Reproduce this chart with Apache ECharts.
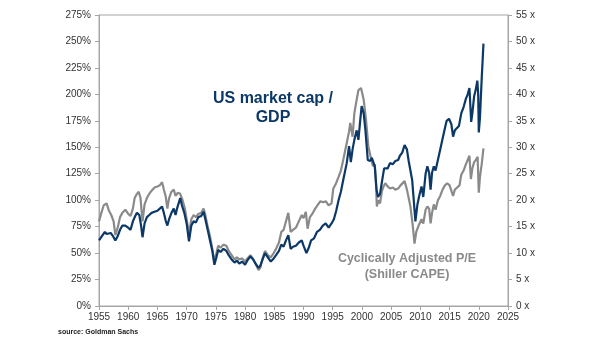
<!DOCTYPE html>
<html>
<head>
<meta charset="utf-8">
<script src="https://cdn.jsdelivr.net/npm/echarts@6/dist/echarts.min.js"></script>
<style>
  html, body { margin: 0; padding: 0; background: #ffffff; }
  #chart { width: 605px; height: 341px; }
</style>
</head>
<body>
<div id="chart"></div>
<script>
// US stock market capitalisation as a share of GDP (%), [year, value]
const marketCapToGdp = [
  [1955.0, 62], [1955.5, 66], [1956.0, 70], [1956.3, 68], [1956.6, 67], [1957.0, 69], [1957.4, 66], [1957.8, 62],
  [1958.2, 66], [1958.6, 72], [1959.0, 76], [1959.5, 76], [1960.0, 74], [1960.4, 72], [1960.8, 80], [1961.2, 85],
  [1961.5, 88], [1961.9, 86], [1962.2, 76], [1962.45, 65], [1962.8, 78], [1963.2, 84], [1963.6, 86], [1964.0, 88],
  [1964.5, 89], [1965.0, 90], [1965.4, 92], [1965.8, 94], [1966.1, 88], [1966.4, 81], [1966.7, 76], [1967.0, 82],
  [1967.4, 88], [1967.8, 92], [1968.1, 86], [1968.4, 93], [1968.9, 102], [1969.2, 95], [1969.6, 88], [1970.0, 78],
  [1970.4, 61], [1970.8, 76], [1971.2, 80], [1971.6, 79], [1972.0, 84], [1972.5, 85], [1972.9, 89], [1973.2, 82],
  [1973.6, 72], [1974.0, 62], [1974.4, 52], [1974.75, 39], [1975.1, 46], [1975.4, 53], [1975.8, 51], [1976.3, 54],
  [1976.8, 52], [1977.2, 48], [1977.7, 44], [1978.2, 41], [1978.6, 43], [1979.0, 40], [1979.5, 42], [1980.0, 39],
  [1980.4, 43], [1980.9, 47], [1981.4, 44], [1981.8, 40], [1982.3, 36], [1982.6, 38], [1983.0, 44], [1983.4, 50],
  [1983.9, 46], [1984.4, 42], [1984.9, 45], [1985.3, 48], [1985.8, 52], [1986.2, 58], [1986.6, 56], [1987.0, 62],
  [1987.4, 67], [1987.8, 54], [1988.2, 56], [1988.7, 57], [1989.2, 60], [1989.7, 62], [1990.0, 57], [1990.5, 50],
  [1990.9, 55], [1991.3, 62], [1991.8, 64], [1992.3, 70], [1992.8, 72], [1993.3, 76], [1993.8, 78], [1994.3, 74],
  [1994.8, 78], [1995.2, 82], [1995.6, 90], [1996.0, 100], [1996.4, 108], [1996.8, 119], [1997.4, 135], [1997.8, 151],
  [1998.1, 136], [1998.4, 148], [1998.7, 157], [1999.1, 166], [1999.4, 157], [1999.7, 175], [1999.95, 189], [2000.3, 182],
  [2000.6, 166], [2001.0, 138], [2001.4, 137], [2001.7, 140], [2002.2, 132], [2002.5, 110], [2002.75, 103], [2003.1, 106],
  [2003.5, 120], [2003.8, 130], [2004.1, 129], [2004.4, 130], [2004.8, 135],
  [2005.3, 134], [2005.7, 137], [2006.2, 138], [2006.5, 142], [2006.9, 145], [2007.3, 152], [2007.7, 148], [2008.0, 137],
  [2008.3, 128], [2008.6, 119], [2008.9, 98], [2009.15, 80], [2009.5, 96], [2009.8, 104], [2010.2, 113], [2010.5, 103],
  [2010.9, 125], [2011.2, 132], [2011.5, 126], [2011.75, 110], [2012.0, 126], [2012.3, 132], [2012.6, 128], [2013.0, 138],
  [2013.4, 148], [2013.8, 158], [2014.2, 168], [2014.5, 175], [2014.9, 177], [2015.3, 172], [2015.6, 160], [2015.9, 166],
  [2016.2, 167], [2016.6, 170], [2017.0, 182], [2017.4, 188], [2017.8, 196], [2018.1, 200], [2018.4, 206], [2018.7, 174],
  [2018.9, 182], [2019.2, 198], [2019.5, 205], [2019.75, 213], [2019.9, 200], [2020.0, 164], [2020.2, 178], [2020.5, 215],
  [2020.8, 248]
];

// Shiller cyclically adjusted P/E (multiple, x), [year, value]
const shillerCape = [
  [1955.0, 16.0], [1955.4, 17.6], [1955.8, 19.0], [1956.3, 19.4], [1956.7, 18.0], [1957.1, 17.2], [1957.5, 16.0], [1957.8, 13.4],
  [1958.2, 14.8], [1958.6, 16.8], [1959.0, 17.6], [1959.5, 18.2], [1960.0, 17.4], [1960.4, 17.0], [1960.8, 18.4], [1961.1, 20.4],
  [1961.5, 21.2], [1961.8, 21.6], [1962.1, 20.4], [1962.45, 16.0], [1962.8, 19.2], [1963.2, 20.4], [1963.6, 21.2], [1964.0, 21.8],
  [1964.5, 22.4], [1965.0, 22.6], [1965.4, 22.8], [1965.8, 23.4], [1966.1, 22.0], [1966.4, 20.8], [1966.7, 18.4], [1967.0, 20.4],
  [1967.4, 21.6], [1967.8, 22.0], [1968.1, 20.8], [1968.5, 21.4], [1968.9, 21.2], [1969.3, 20.0], [1969.7, 18.4], [1970.0, 16.4],
  [1970.4, 13.6], [1970.8, 16.4], [1971.2, 17.2], [1971.6, 16.8], [1972.0, 17.4], [1972.5, 17.6], [1972.9, 18.4], [1973.2, 17.2],
  [1973.6, 15.0], [1974.0, 13.2], [1974.4, 10.8], [1974.75, 8.4], [1975.1, 10.0], [1975.4, 11.4], [1975.8, 11.0], [1976.3, 11.6],
  [1976.8, 11.4], [1977.2, 10.4], [1977.7, 9.6], [1978.2, 8.8], [1978.6, 9.2], [1979.0, 8.8], [1979.5, 9.0], [1980.0, 8.4],
  [1980.4, 9.0], [1980.9, 9.6], [1981.4, 8.8], [1981.8, 8.0], [1982.3, 6.8], [1982.6, 7.2], [1983.0, 9.0], [1983.4, 10.4],
  [1983.9, 9.6], [1984.4, 9.2], [1984.9, 10.0], [1985.3, 10.8], [1985.8, 12.0], [1986.2, 14.0], [1986.6, 14.4], [1987.0, 16.0],
  [1987.4, 17.6], [1987.8, 14.0], [1988.2, 14.4], [1988.7, 14.8], [1989.2, 16.0], [1989.7, 17.2], [1990.0, 16.6], [1990.4, 17.8],
  [1990.7, 14.6], [1991.1, 16.8], [1991.5, 17.4], [1992.0, 18.4], [1992.5, 19.2], [1992.9, 19.8], [1993.4, 19.6], [1993.8, 19.8],
  [1994.3, 19.0], [1994.8, 19.4], [1995.1, 22.2], [1995.5, 23.0], [1996.0, 24.4], [1996.4, 25.6], [1996.8, 27.6], [1997.4, 30.8],
  [1997.8, 33.0], [1998.0, 34.6], [1998.4, 32.0], [1998.7, 36.4], [1999.1, 39.0], [1999.4, 40.8], [1999.85, 41.2], [2000.3, 39.0],
  [2000.7, 35.2], [2001.1, 30.2], [2001.6, 27.6], [2001.9, 26.4], [2002.2, 26.8], [2002.4, 23.2], [2002.55, 18.8], [2002.8, 20.0],
  [2003.1, 19.4], [2003.4, 21.6], [2003.7, 22.6], [2004.0, 23.2], [2004.4, 22.6],
  [2004.8, 22.2], [2005.3, 22.4], [2005.7, 22.0], [2006.2, 22.2], [2006.6, 22.8], [2006.9, 23.0], [2007.3, 23.6], [2007.7, 22.0],
  [2008.0, 20.4], [2008.3, 18.8], [2008.7, 15.2], [2009.0, 11.8], [2009.3, 14.0], [2009.7, 15.2], [2010.2, 16.4], [2010.5, 15.6],
  [2010.9, 18.2], [2011.2, 18.8], [2011.5, 18.4], [2011.75, 15.6], [2012.0, 17.6], [2012.3, 19.2], [2012.6, 18.2], [2013.0, 20.0],
  [2013.4, 20.8], [2013.8, 22.0], [2014.2, 22.8], [2014.6, 23.2], [2015.0, 22.8], [2015.3, 22.6], [2015.6, 20.8], [2015.9, 22.0],
  [2016.3, 22.4], [2016.7, 22.8], [2017.0, 24.8], [2017.4, 25.6], [2017.8, 26.8], [2018.1, 27.6], [2018.4, 28.4], [2018.65, 24.0],
  [2018.9, 26.0], [2019.2, 27.2], [2019.5, 27.6], [2019.8, 28.2], [2020.0, 21.4], [2020.2, 24.4], [2020.5, 26.8], [2020.8, 29.8]
];

// Axis ranges and tick steps
const yearRange = [1955, 2025];
const yearStep = 5;
const pctRange = [0, 275];
const pctStep = 25;
const peRange = [0, 55];
const peStep = 5;

const NAVY = '#0B3866';
const GREY = '#8A8A8A';
const AXIS = '#A6A6A6';
const LABEL = '#333333';
const FONT = '"Liberation Sans", Arial, sans-serif';

const chart = echarts.init(document.getElementById('chart'), null, { renderer: 'canvas' });

chart.setOption({
  animation: false,
  backgroundColor: '#ffffff',
  textStyle: { fontFamily: FONT },
  grid: {
    left: 99, right: 97, top: 15, bottom: 35,
    show: true, borderColor: AXIS, borderWidth: 1, backgroundColor: 'transparent'
  },
  xAxis: {
    type: 'value',
    min: yearRange[0], max: yearRange[1], interval: yearStep,
    axisLine: { show: true, lineStyle: { color: AXIS, width: 1 } },
    axisTick: { show: true, length: 4, lineStyle: { color: AXIS } },
    axisLabel: { color: LABEL, fontSize: 10, fontFamily: FONT, margin: 6, formatter: v => String(v) },
    splitLine: { show: false }
  },
  yAxis: [
    {
      type: 'value', position: 'left',
      min: pctRange[0], max: pctRange[1], interval: pctStep,
      axisLine: { show: true, lineStyle: { color: AXIS, width: 1 } },
      axisTick: { show: true, length: 4, lineStyle: { color: AXIS } },
      axisLabel: { color: LABEL, fontSize: 10, fontFamily: FONT, margin: 8, formatter: '{value}%' },
      splitLine: { show: false }
    },
    {
      type: 'value', position: 'right',
      min: peRange[0], max: peRange[1], interval: peStep,
      axisLine: { show: true, lineStyle: { color: AXIS, width: 1 } },
      axisTick: { show: true, length: 4, lineStyle: { color: AXIS } },
      axisLabel: { color: LABEL, fontSize: 10, fontFamily: FONT, margin: 8, formatter: '{value} x' },
      splitLine: { show: false }
    }
  ],
  series: [
    {
      name: 'Cyclically Adjusted P/E (Shiller CAPE)',
      type: 'line', yAxisIndex: 1,
      data: shillerCape,
      showSymbol: false, symbol: 'none',
      lineStyle: { color: GREY, width: 2.2 },
      z: 2
    },
    {
      name: 'US market cap / GDP',
      type: 'line', yAxisIndex: 0,
      data: marketCapToGdp,
      showSymbol: false, symbol: 'none',
      lineStyle: { color: NAVY, width: 2.2 },
      z: 3
    }
  ],
  graphic: [
    {
      type: 'text', x: 273, y: 89,
      style: {
        text: 'US market cap /\nGDP', fill: NAVY,
        font: 'bold 16px ' + FONT, align: 'center', verticalAlign: 'top', lineHeight: 19
      }
    },
    {
      type: 'text', x: 407, y: 251,
      style: {
        text: 'Cyclically Adjusted P/E\n(Shiller CAPE)', fill: GREY,
        font: 'bold 12.5px ' + FONT, align: 'center', verticalAlign: 'top', lineHeight: 15.5
      }
    },
    {
      type: 'text', x: 58, y: 329,
      style: { text: 'source: Goldman Sachs', fill: '#222222', font: 'bold 7px ' + FONT }
    }
  ]
});
</script>
</body>
</html>
